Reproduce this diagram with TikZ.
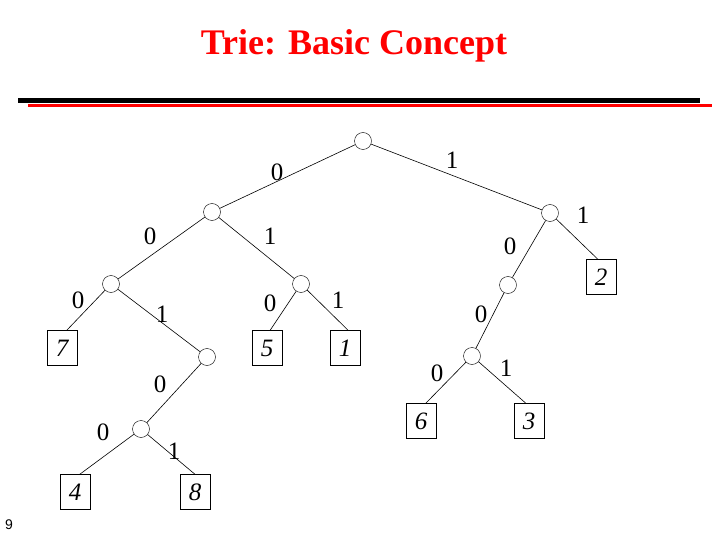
\documentclass[tikz,border=0pt]{standalone}
\usepackage{fontspec}
\setmainfont{Liberation Serif}
\newfontfamily\sansf{Liberation Sans}
\begin{document}
\begin{tikzpicture}[x=1pt,y=-1pt,
  inode/.style={circle,draw,inner sep=0pt,minimum size=17pt,fill=white},
  leaf/.style={rectangle,draw,minimum width=30pt,minimum height=35pt,inner sep=0pt,font=\fontsize{25}{25}\selectfont\itshape,fill=white},
  lab/.style={font=\fontsize{25}{25}\selectfont,inner sep=0pt},
  edge/.style={line width=0.6pt}]
\useasboundingbox (0,0) rectangle (720,540);
\node[font=\fontsize{36}{36}\selectfont\bfseries,text=red] (title) at (354,46) {Trie: Basic Concept};
\coordinate (bl1) at (18,101); \coordinate (bl2) at (700,101);
\coordinate (rl1) at (28,106); \coordinate (rl2) at (712,106);
\draw[line width=5pt] (bl1) -- (bl2);
\draw[red,line width=3pt] (rl1) -- (rl2);
\node[font=\sansf\fontsize{14}{14}\selectfont] (pg) at (9,525) {9};
% internal nodes
\node[inode] (R) at (363,141) {};
\node[inode] (A) at (212,212) {};
\node[inode] (B) at (550,213) {};
\node[inode] (C) at (111,284) {};
\node[inode] (D) at (301,284) {};
\node[inode] (E) at (207,357) {};
\node[inode] (F) at (141,429) {};
\node[inode] (G) at (508,285) {};
\node[inode] (H) at (472,356) {};
% leaves
\node[leaf] (l7) at (62,348) {7};
\node[leaf] (l5) at (267,348) {5};
\node[leaf] (l1) at (345,348) {1};
\node[leaf] (l4) at (75,492) {4};
\node[leaf] (l8) at (195,492) {8};
\node[leaf] (l2) at (601,277) {2};
\node[leaf] (l6) at (421,421) {6};
\node[leaf] (l3) at (529,421) {3};
% edges
\draw[edge] (R) -- (A); \draw[edge] (R) -- (B);
\draw[edge] (A) -- (C); \draw[edge] (A) -- (D);
\draw[edge] (C) -- (l7.75); \draw[edge] (C) -- (E);
\draw[edge] (E) -- (F);
\draw[edge] (F) -- (l4.75); \draw[edge] (F) -- (l8.90);
\draw[edge] (D) -- (l5.80); \draw[edge] (D) -- (l1.80);
\draw[edge] (B) -- (G); \draw[edge] (B) -- (l2.100);
\draw[edge] (G) -- (H);
\draw[edge] (H) -- (l6.75); \draw[edge] (H) -- (l3.100);
% labels
\node[lab] (t1) at (277,172) {0};
\node[lab] (t2) at (452,160) {1};
\node[lab] (t3) at (150,236) {0};
\node[lab] (t4) at (270,236) {1};
\node[lab] (t5) at (583,215) {1};
\node[lab] (t6) at (510,246) {0};
\node[lab] (t7) at (78,300) {0};
\node[lab] (t8) at (162,314) {1};
\node[lab] (t9) at (270,303) {0};
\node[lab] (t10) at (338,300) {1};
\node[lab] (t11) at (481,314) {0};
\node[lab] (t12) at (160,384) {0};
\node[lab] (t13) at (103,432) {0};
\node[lab] (t14) at (174,451) {1};
\node[lab] (t15) at (437,373) {0};
\node[lab] (t16) at (506,368) {1};
\end{tikzpicture}
\end{document}
